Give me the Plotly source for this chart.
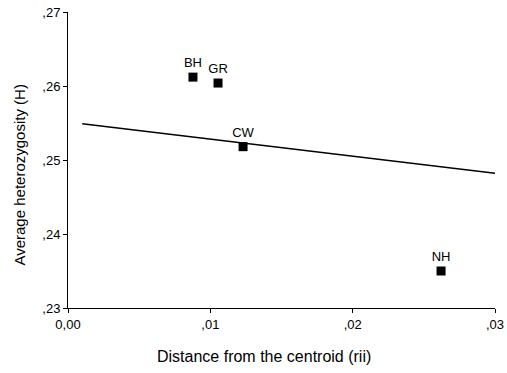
import plotly.graph_objects as go

# Data
pop_labels = ["BH", "GR", "CW", "NH"]
dist_x = [0.00878, 0.01054, 0.01230, 0.02621]
het_y = [0.2612, 0.2604, 0.2518, 0.2350]

trend_x = [0.0010, 0.030]
trend_y = [0.2549, 0.2482]

x_tickvals = [0.0, 0.01, 0.02, 0.03]
x_ticktext = ["0,00", ",01", ",02", ",03"]
y_tickvals = [0.23, 0.24, 0.25, 0.26, 0.27]
y_ticktext = [",23", ",24", ",25", ",26", ",27"]

x_title = "Distance from the centroid (rii)"
y_title = "Average heterozygosity (H)"

font_family = "Liberation Sans, Arial, sans-serif"

fig = go.Figure()
fig.add_trace(go.Scatter(
    x=trend_x, y=trend_y, mode="lines",
    line=dict(color="black", width=1.5),
    showlegend=False, hoverinfo="skip",
))
fig.add_trace(go.Scatter(
    x=dist_x, y=het_y, mode="markers+text",
    text=pop_labels, textposition="top center",
    textfont=dict(family=font_family, size=13, color="black"),
    marker=dict(symbol="square", size=9, color="black"),
    showlegend=False, cliponaxis=False,
))

fig.update_layout(
    width=507, height=373,
    margin=dict(l=68, r=12, t=12, b=65),
    paper_bgcolor="white", plot_bgcolor="white",
    font=dict(family=font_family, size=13, color="black"),
)
fig.update_xaxes(
    range=[0, 0.03], tickvals=x_tickvals, ticktext=x_ticktext,
    showline=True, linecolor="black", linewidth=1,
    ticks="outside", ticklen=4, tickcolor="black",
    showgrid=False, zeroline=False, automargin=False,
    tickfont=dict(size=13),
)
fig.update_yaxes(
    range=[0.23, 0.27], tickvals=y_tickvals, ticktext=y_ticktext,
    showline=True, linecolor="black", linewidth=1,
    ticks="outside", ticklen=4, tickcolor="black",
    showgrid=False, zeroline=False, automargin=False,
    tickfont=dict(size=13),
)

fig.add_annotation(
    text=x_title, xref="paper", yref="paper",
    x=0.46, y=-0.165, xanchor="center", yanchor="middle",
    showarrow=False, font=dict(size=16, family=font_family, color="black"),
)
fig.add_annotation(
    text=y_title, xref="paper", yref="paper",
    x=-0.113, y=0.45, xanchor="center", yanchor="middle", textangle=-90,
    showarrow=False, font=dict(size=15, family=font_family, color="black"),
)

fig.write_html("out.html")
